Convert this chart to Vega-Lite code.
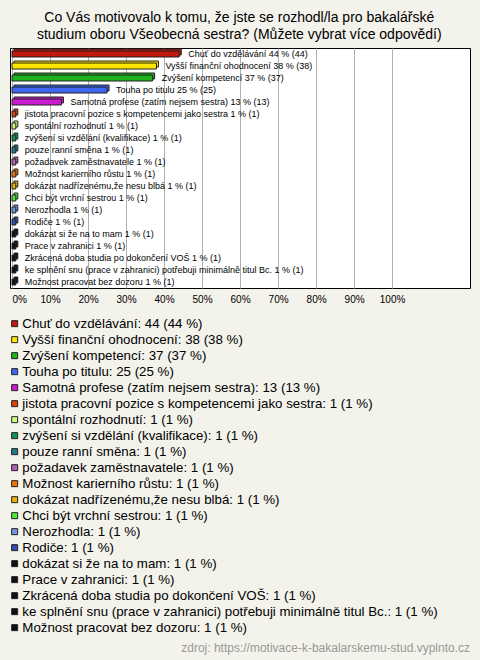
{
  "$schema": "https://vega.github.io/schema/vega-lite/v6.json",
  "background": "#f3f2eb",
  "padding": {"left": 8, "right": 10, "top": 10, "bottom": 6},
  "title": {
    "text": ["Co Vás motivovalo k tomu, že jste se rozhodl/la pro bakalářské", "studium oboru Všeobecná sestra? (Můžete vybrat více odpovědí)"],
    "font": "Liberation Sans", "fontSize": 14, "fontWeight": "normal", "lineHeight": 17,
    "color": "#000", "anchor": "middle", "offset": 6
  },
  "config": {
    "view": {"stroke": "#000", "strokeWidth": 1, "fill": "#ffffff"},
    "font": "Liberation Sans"
  },
  "data": {"values": [
    {"name": "Chuť do vzdělávání", "n": 44, "label": "Chuť do vzdělávání 44 % (44)", "legend": "Chuť do vzdělávání: 44 (44 %)"},
    {"name": "Vyšší finanční ohodnocení", "n": 38, "label": "Vyšší finanční ohodnocení 38 % (38)", "legend": "Vyšší finanční ohodnocení: 38 (38 %)"},
    {"name": "Zvýšení kompetencí", "n": 37, "label": "Zvýšení kompetencí 37 % (37)", "legend": "Zvýšení kompetencí: 37 (37 %)"},
    {"name": "Touha po titulu", "n": 25, "label": "Touha po titulu 25 % (25)", "legend": "Touha po titulu: 25 (25 %)"},
    {"name": "Samotná profese (zatím nejsem sestra)", "n": 13, "label": "Samotná profese (zatím nejsem sestra) 13 % (13)", "legend": "Samotná profese (zatím nejsem sestra): 13 (13 %)"},
    {"name": "jistota pracovní pozice s kompetencemi jako sestra", "n": 1, "label": "jistota pracovní pozice s kompetencemi jako sestra 1 % (1)", "legend": "jistota pracovní pozice s kompetencemi jako sestra: 1 (1 %)"},
    {"name": "spontální rozhodnutí", "n": 1, "label": "spontální rozhodnutí 1 % (1)", "legend": "spontální rozhodnutí: 1 (1 %)"},
    {"name": "zvýšení si vzdělání (kvalifikace)", "n": 1, "label": "zvýšení si vzdělání (kvalifikace) 1 % (1)", "legend": "zvýšení si vzdělání (kvalifikace): 1 (1 %)"},
    {"name": "pouze ranní směna", "n": 1, "label": "pouze ranní směna 1 % (1)", "legend": "pouze ranní směna: 1 (1 %)"},
    {"name": "požadavek zaměstnavatele", "n": 1, "label": "požadavek zaměstnavatele 1 % (1)", "legend": "požadavek zaměstnavatele: 1 (1 %)"},
    {"name": "Možnost karierního růstu", "n": 1, "label": "Možnost karierního růstu 1 % (1)", "legend": "Možnost karierního růstu: 1 (1 %)"},
    {"name": "dokázat nadřízenému,že nesu blbá", "n": 1, "label": "dokázat nadřízenému,že nesu blbá 1 % (1)", "legend": "dokázat nadřízenému,že nesu blbá: 1 (1 %)"},
    {"name": "Chci být vrchní sestrou", "n": 1, "label": "Chci být vrchní sestrou 1 % (1)", "legend": "Chci být vrchní sestrou: 1 (1 %)"},
    {"name": "Nerozhodla", "n": 1, "label": "Nerozhodla 1 % (1)", "legend": "Nerozhodla: 1 (1 %)"},
    {"name": "Rodiče", "n": 1, "label": "Rodiče 1 % (1)", "legend": "Rodiče: 1 (1 %)"},
    {"name": "dokázat si že na to mam", "n": 1, "label": "dokázat si že na to mam 1 % (1)", "legend": "dokázat si že na to mam: 1 (1 %)"},
    {"name": "Prace v zahranici", "n": 1, "label": "Prace v zahranici 1 % (1)", "legend": "Prace v zahranici: 1 (1 %)"},
    {"name": "Zkrácená doba studia po dokončení VOŠ", "n": 1, "label": "Zkrácená doba studia po dokončení VOŠ 1 % (1)", "legend": "Zkrácená doba studia po dokončení VOŠ: 1 (1 %)"},
    {"name": "ke splnění snu (prace v zahranici) potřebuji minimálně titul Bc.", "n": 1, "label": "ke splnění snu (prace v zahranici) potřebuji minimálně titul Bc. 1 % (1)", "legend": "ke splnění snu (prace v zahranici) potřebuji minimálně titul Bc.: 1 (1 %)"},
    {"name": "Možnost pracovat bez dozoru", "n": 1, "label": "Možnost pracovat bez dozoru 1 % (1)", "legend": "Možnost pracovat bez dozoru: 1 (1 %)"}
  ]},
  "vconcat": [
    {
      "width": 460,
      "height": 240,
      "title": {
        "text": "zdroj: https://motivace-k-bakalarskemu-stud.vyplnto.cz",
        "orient": "bottom", "anchor": "end", "fontSize": 12, "fontWeight": "normal",
        "color": "#999999", "offset": 339
      },
      "encoding": {
        "y": {"field": "name", "type": "nominal", "sort": null, "axis": null,
              "scale": {"paddingInner": 0, "paddingOuter": 0}},
        "x": {"field": "n", "type": "quantitative",
              "scale": {"domain": [-0.53, 120.5], "nice": false, "zero": false},
              "axis": {"values": [0, 10, 20, 30, 40, 50, 60, 70, 80, 90, 100], "grid": true,
                       "gridColor": "#b0b0b0", "gridWidth": 1, "domain": false, "ticks": false,
                       "labelFontSize": 10, "labelColor": "#000", "labelPadding": 6,
                       "labelExpr": "datum.value + '%'", "labelOverlap": false,
                       "labelAlign": {"condition": {"test": "datum.value == 0", "value": "left"}, "value": "center"},
                       "title": null}},
        "color": {"field": "legend", "type": "nominal", "sort": null,
                  "scale": {"range": ["#c0170f", "#ffe600", "#1db31d", "#3f66f0", "#cc1ad0", "#e04010", "#ccff80", "#119456", "#207a8c", "#b05fb5", "#e8780c", "#e8b000", "#4fe83a", "#6f99e0", "#2f50b0", "#111111", "#111111", "#111111", "#111111", "#111111"]},
                  "legend": {"orient": "none", "legendX": -2, "legendY": 269, "title": null,
                             "direction": "vertical", "symbolType": "square", "symbolSize": 36,
                             "symbolStrokeColor": "#222", "symbolStrokeWidth": 1, "symbolOpacity": 1,
                             "labelFontSize": 13.3, "labelColor": "#000", "labelOffset": 1,
                             "rowPadding": 2, "labelLimit": 0, "padding": 0}}
      },
      "layer": [
        {"mark": {"type": "bar", "size": 6, "xOffset": 2, "x2Offset": 2, "yOffset": -2, "y2Offset": -2,
                  "stroke": "#222", "strokeWidth": 1, "opacity": 1}},
        {"mark": {"type": "bar", "size": 6, "stroke": "#222", "strokeWidth": 1, "opacity": 1}},
        {"mark": {"type": "text", "align": "left", "baseline": "middle", "dx": 9, "fontSize": 9},
         "encoding": {"text": {"field": "label"}, "color": {"value": "#000"}}}
      ]
    }
  ]
}
